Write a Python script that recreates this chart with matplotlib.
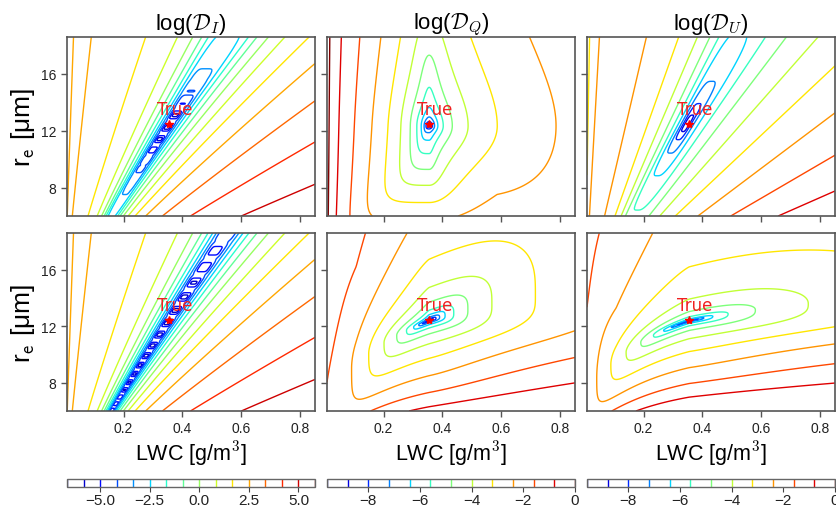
import numpy as np
import matplotlib
matplotlib.use("Agg")
import matplotlib.pyplot as plt

plt.rcParams['font.family'] = ['Liberation Sans', 'DejaVu Sans']
plt.rcParams['mathtext.fontset'] = 'cm'

# ---------------- chart values ----------------
lwc_range = [0.008, 0.85]          # LWC axis [g/m^3]
re_range = [6.0, 18.6]             # r_e axis [um]
true_lwc = 0.355
true_re = 12.45
levels_I = np.linspace(-20.0 / 3.0, 35.0 / 6.0, 16)
levels_QU = np.linspace(-9.6, 0.0, 13)
cbar_ticks_I = [-5.0, -2.5, 0.0, 2.5, 5.0]
cbar_ticks_QU = [-8, -6, -4, -2, 0]
cbar_labels_I = ['−5.0', '−2.5', '0.0', '2.5', '5.0']
x_ticks = [0.2, 0.4, 0.6, 0.8]
y_ticks = [8, 12, 16]
titles = [r'log($\mathcal{D}_I$)', r'log($\mathcal{D}_Q$)', r'log($\mathcal{D}_U$)']

# cost-surface shape parameters
I_top = dict(a=1.1, c=4.2, p=6.5, us=0.295, m=4.0, us2=2.0, bt=-0.8, bb=-2.0, q=4.5,
             floor=-5.3, ripple=0.9, period=0.07)
I_bot = dict(a=1.1, c=4.2, p=6.5, us=0.295, m=4.0, us2=2.0, bt=-3.4, bb=-5.0, q=4.0,
             floor=-5.3, ripple=0.9, period=0.07)
U_top = dict(x0=0.35, cr=-3.643, pr=2.909, sr=1.805, cl=-0.766, pl=5.433, sl=-1.555,
             bt=-5.35, bb=-5.1, q=2.8, floor=-9.3)
Q_top = dict(cx=-2.0, px=4.0, tilt=0.3, ct1=-3.8, pt1=2.6, ct2=-1.9, pt2=7.0,
             cb1=-3.86, pb1=2.39, cb2=-1.785, pb2=6.0, cu=0.025, cl=0.05, xcap=0.5, floor=-9.3)
Q_bot = dict(kr=0.19, kl=0.22, kl2=0.05, xs=1.8, cpr=-2.49, ppr=4.6, cpl=-2.91, ppl=4.4, ps=2.0,
             cqt=-1.45, pqt=3.35, cqb=-1.51, pqb=3.0, sqb=2.66, qmax=0.72, c1=0.9, c2=0.045,
             floor=-9.3)
U_bot = dict(kr=0.12, kl=0.19, kl2=0.05, xs=1.8, cpr=-3.5, ppr=4.2, cpl=-3.84, ppl=4.65, ps=2.8,
             cqt=-1.94, pqt=2.2, cqb=-1.35, pqb=2.8, sqb=3.71, qmax=0.58, c1=0.8, c2=0.02,
             floor=-9.3)

# ---------------- grid ----------------
lwc = np.linspace(lwc_range[0], lwc_range[1], 320)
re = np.linspace(re_range[0], re_range[1], 320)
LWC, RE = np.meshgrid(lwc, re)


def lg(t):
    return np.log10(np.maximum(np.abs(t), 1e-12))


def field_valley_I(P):
    X = np.log(LWC / true_lwc)
    Y = np.log(RE / true_re)
    u = X - P['a'] * Y
    au = np.abs(u)
    base = 10 ** (P['c'] + P['p'] * lg(u))
    left = base / (1 + (au / P['us']) ** P['m']) / (1 + (au / P['us2']) ** 4)
    Da = np.where(u > 0, base, left)
    Dv = np.where(Y > 0, 10 ** (P['bt'] + P['q'] * lg(Y)), 10 ** (P['bb'] + P['q'] * lg(Y)))
    Df = 10 ** (P['floor'] + P['ripple'] * np.sin(2 * np.pi * Y / P['period']))
    return np.log10(Da + Dv + Df)


def field_valley_U(P):
    X = np.log(LWC / P['x0'])
    Y = np.log(RE / true_re)
    u = X - Y
    Da = np.where(u > 0, 10 ** (P['cr'] + P['pr'] * lg(u) + P['sr'] * np.abs(u)),
                  10 ** (P['cl'] + P['pl'] * lg(u) + P['sl'] * np.abs(u)))
    Dv = np.where(Y > 0, 10 ** (P['bt'] + P['q'] * lg(Y)), 10 ** (P['bb'] + P['q'] * lg(Y)))
    return np.log10(Da + Dv + 10 ** P['floor'])


def field_Q_top(P):
    X = np.log(LWC / true_lwc)
    Y = np.log(RE / 12.35)
    w = X ** 2 / (X ** 2 + 0.25)
    Xe = np.where(X < 0, X - P['tilt'] * Y * w, X)
    Dx = 10 ** (P['cx'] + P['px'] * lg(Xe))
    Dy = np.where(Y > 0, 10 ** (P['ct1'] + P['pt1'] * lg(Y)) + 10 ** (P['ct2'] + P['pt2'] * lg(Y)),
                  10 ** (P['cb1'] + P['pb1'] * lg(Y)) + 10 ** (P['cb2'] + P['pb2'] * lg(Y)))
    Xk = np.minimum(X, P['xcap'])
    Dc = (np.where(Y > 0, P['cu'] * X ** 2 * Y ** 2, 0.0)
          + np.where((Y < 0) & (X > 0), P['cl'] * Xk ** 2 * Y ** 2, 0.0))
    return np.log10(Dx + Dy + Dc + 10 ** P['floor'])


def field_bowl(P):
    X = np.log(LWC / true_lwc)
    Y = np.log(RE / 12.4)
    Xc = np.where(X < 0, -P['xs'] * np.tanh(np.abs(X) / P['xs']), X)
    Yc = np.where(X > 0, P['kr'] * X, P['kl'] * Xc + P['kl2'] * Xc * np.abs(Xc))
    q = Y - Yc
    p = X
    ap = np.abs(p)
    qq = np.minimum(np.abs(q), P['qmax'])
    Dp = np.where(p > 0, 10 ** (P['cpr'] + P['ppr'] * lg(p)),
                  10 ** (P['cpl'] + P['ppl'] * lg(p)) / (1 + (ap / P['ps']) ** P['ppl']))
    Dq = np.where(q > 0, 10 ** (P['cqt'] + P['pqt'] * lg(q)),
                  10 ** (P['cqb'] + P['pqb'] * lg(q) + P['sqb'] * qq ** 2))
    pc = np.minimum(ap, 1.2)
    Dc = (np.where((p > 0) & (q < 0), P['c1'] * p ** 2 * q ** 4, 0.0)
          + np.where((p < 0) & (q > 0), P['c2'] * pc ** 1.36 * q ** 2, 0.0))
    return np.log10(Dp + Dq + Dc + 10 ** P['floor'])


fields = [[field_valley_I(I_top), field_Q_top(Q_top), field_valley_U(U_top)],
          [field_valley_I(I_bot), field_bowl(Q_bot), field_bowl(U_bot)]]
col_levels = [levels_I, levels_QU, levels_QU]
col_ticks = [cbar_ticks_I, cbar_ticks_QU, cbar_ticks_QU]

# ---------------- layout ----------------
W, H = 836.0, 510.0
fig = plt.figure(figsize=(W / 100, H / 100), dpi=100)
lefts = [67, 327, 587]
aw = 248
tops = [38, 234]
ahs = [179, 178]
spine_c = '#555555'
top_cs = []

for r in range(2):
    for c in range(3):
        ax = fig.add_axes([lefts[c] / W, 1 - (tops[r] + ahs[r]) / H, aw / W, ahs[r] / H])
        cs = ax.contour(LWC, RE, fields[r][c], levels=col_levels[c], cmap='jet', linewidths=1.0)
        ax.plot([true_lwc], [true_re], marker='*', color='red', ms=6, ls='none')
        ax.text(0.372, 13.15, 'True', color='#f02020', fontsize=12, ha='center',
                va='baseline', family='DejaVu Sans')
        ax.set_xlim(lwc_range)
        ax.set_ylim(re_range)
        ax.set_xticks(x_ticks)
        ax.set_yticks(y_ticks)
        ax.tick_params(direction='out', length=4, width=1, color=spine_c, labelsize=10,
                       labelcolor='#222222')
        for s in ax.spines.values():
            s.set_edgecolor(spine_c)
            s.set_linewidth(1.2)
        if r == 0:
            ax.set_title(titles[c], fontsize=16, pad=6)
            ax.set_xticklabels([])
            top_cs.append(cs)
        if c > 0:
            ax.set_yticklabels([])
        else:
            ax.set_ylabel(r'r$_\mathsf{e}$ [μm]', fontsize=19, labelpad=3)
        if r == 1:
            ax.set_xlabel(r'LWC [g/m$^\mathsf{3}$]', fontsize=15.5, labelpad=2)

for c in range(3):
    cax = fig.add_axes([lefts[c] / W, 1 - 487.5 / H, aw / W, 8 / H])
    cb = fig.colorbar(top_cs[c], cax=cax, orientation='horizontal', ticks=col_ticks[c])
    cb.outline.set_edgecolor('#666666')
    cb.outline.set_linewidth(1.0)
    cax.tick_params(labelsize=11, length=3.5, pad=1.5, color='#444444', labelcolor='#222222')
    if c == 0:
        cax.set_xticklabels(cbar_labels_I)

fig.savefig('out.png', dpi=100)
